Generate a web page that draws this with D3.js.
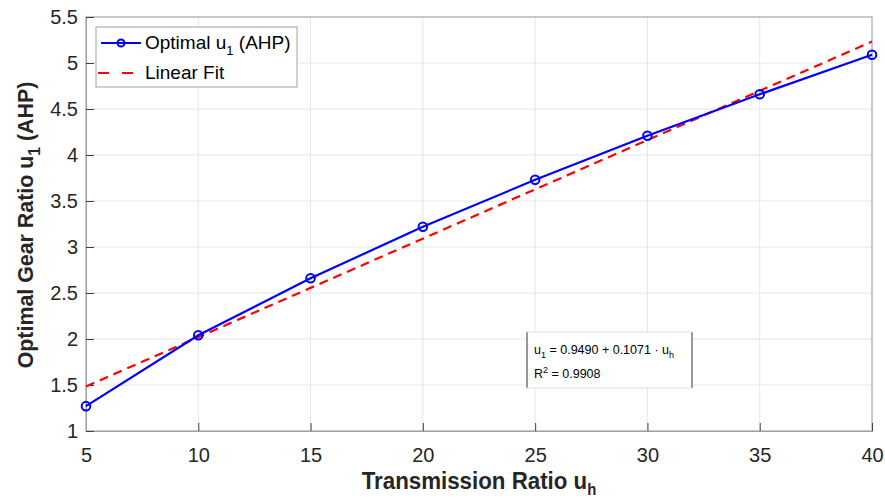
<!DOCTYPE html>
<html>
<head>
<meta charset="utf-8">
<script src="https://cdn.jsdelivr.net/npm/d3@7"></script>
<style>
  body { margin: 0; background: #fff; }
  text { font-family: "Liberation Sans", Arial, sans-serif; }
</style>
</head>
<body>
<div id="chart"></div>
<script>
// data
var uh = [5, 10, 15, 20, 25, 30, 35, 40];
var u1 = [1.27, 2.04, 2.66, 3.22, 3.73, 4.21, 4.66, 5.09];
var fitCoef = [0.9490, 0.1071];   // intercept, slope
var r2 = 0.9908;
var xTicks = [5, 10, 15, 20, 25, 30, 35, 40];
var yTicks = [1, 1.5, 2, 2.5, 3, 3.5, 4, 4.5, 5, 5.5];

function drawChart() {
  var width = 885, height = 501;
  var mLeft = 86, mRight = 872, mTop = 17, mBottom = 431;

  var svg = d3.select("#chart")
    .append("svg")
      .attr("width", width)
      .attr("height", height);

  var x = d3.scaleLinear().domain([5, 40]).range([mLeft, mRight]);
  var y = d3.scaleLinear().domain([1, 5.5]).range([mBottom, mTop]);

  // grid
  svg.append("g")
    .selectAll("line")
    .data(xTicks).enter()
    .append("line")
      .attr("x1", d => x(d)).attr("x2", d => x(d))
      .attr("y1", mTop).attr("y2", mBottom)
      .style("stroke", "#e6e6e6").style("stroke-width", 1);
  svg.append("g")
    .selectAll("line")
    .data(yTicks).enter()
    .append("line")
      .attr("x1", mLeft).attr("x2", mRight)
      .attr("y1", d => y(d)).attr("y2", d => y(d))
      .style("stroke", "#e6e6e6").style("stroke-width", 1);

  // box
  svg.append("rect")
    .attr("x", mLeft).attr("y", mTop)
    .attr("width", mRight - mLeft).attr("height", mBottom - mTop)
    .style("fill", "none").style("stroke", "#a0a0a0").style("stroke-width", 1);

  // axes
  var xAxis = svg.append("g")
    .attr("transform", "translate(0," + mBottom + ")")
    .call(d3.axisBottom(x).tickValues(xTicks).tickSize(-8).tickPadding(17).tickFormat(d3.format("d")));
  var yAxis = svg.append("g")
    .attr("transform", "translate(" + mLeft + ",0)")
    .call(d3.axisLeft(y).tickValues(yTicks).tickSize(-8).tickPadding(8).tickFormat(d => d));

  [xAxis, yAxis].forEach(function(a) {
    a.select(".domain").style("stroke", "#a0a0a0");
    a.selectAll(".tick line").style("stroke", "#404040");
    a.selectAll(".tick text")
      .style("font-size", "20px")
      .style("font-family", "'Liberation Sans', Arial, sans-serif")
      .style("fill", "#262626");
  });

  // linear fit
  var fitLine = d3.line()
    .x(d => x(d))
    .y(d => y(fitCoef[0] + fitCoef[1] * d));
  svg.append("path")
    .datum(d3.extent(uh))
    .attr("d", fitLine)
    .style("fill", "none")
    .style("stroke", "#ff0000")
    .style("stroke-width", 2.2)
    .style("stroke-dasharray", "9,6");

  // optimal u1 line
  var dataLine = d3.line()
    .x((d, i) => x(uh[i]))
    .y(d => y(d));
  svg.append("path")
    .datum(u1)
    .attr("d", dataLine)
    .style("fill", "none")
    .style("stroke", "#0000ff")
    .style("stroke-width", 2.2);

  svg.selectAll("circle.pt")
    .data(u1).enter()
    .append("circle")
      .attr("class", "pt")
      .attr("cx", (d, i) => x(uh[i]))
      .attr("cy", d => y(d))
      .attr("r", 4.3)
      .style("fill", "none")
      .style("stroke", "#0000ff")
      .style("stroke-width", 2);

  // legend
  var lg = svg.append("g").attr("transform", "translate(96,27)");
  lg.append("rect")
    .attr("width", 201).attr("height", 60)
    .style("fill", "#fff").style("stroke", "#a0a0a0").style("stroke-width", 1);
  lg.append("line")
    .attr("x1", 5).attr("x2", 45).attr("y1", 16).attr("y2", 16)
    .style("stroke", "#0000ff").style("stroke-width", 2.2);
  lg.append("circle")
    .attr("cx", 25).attr("cy", 16).attr("r", 3.5)
    .style("fill", "none").style("stroke", "#0000ff").style("stroke-width", 2);
  lg.append("line")
    .attr("x1", 2).attr("x2", 40).attr("y1", 46).attr("y2", 46)
    .style("stroke", "#ff0000").style("stroke-width", 2.2).style("stroke-dasharray", "11,13");

  var t1 = lg.append("text").attr("x", 49).attr("y", 22)
    .style("font-size", "19px").style("fill", "#000");
  t1.append("tspan").text("Optimal u");
  t1.append("tspan").attr("dy", 6).style("font-size", "13px").text("1");
  t1.append("tspan").attr("dy", -6).text(" (AHP)");
  lg.append("text").attr("x", 49).attr("y", 52)
    .style("font-size", "19px").style("fill", "#000").text("Linear Fit");

  // annotation box
  var ab = svg.append("g").attr("transform", "translate(527,332)");
  ab.append("rect")
    .attr("width", 165).attr("height", 56)
    .style("fill", "#fff").style("stroke", "none");
  ab.append("line").attr("x1", 0).attr("x2", 0).attr("y1", 0).attr("y2", 56)
    .style("stroke", "#333").style("stroke-width", 1);
  ab.append("line").attr("x1", 165).attr("x2", 165).attr("y1", 0).attr("y2", 56)
    .style("stroke", "#333").style("stroke-width", 1);
  ab.append("line").attr("x1", 0).attr("x2", 165).attr("y1", 0).attr("y2", 0)
    .style("stroke", "#ddd").style("stroke-width", 1);
  ab.append("line").attr("x1", 0).attr("x2", 165).attr("y1", 56).attr("y2", 56)
    .style("stroke", "#ddd").style("stroke-width", 1);

  var a1 = ab.append("text").attr("x", 7).attr("y", 22)
    .style("font-size", "12.5px").style("fill", "#000");
  a1.append("tspan").text("u");
  a1.append("tspan").attr("dy", 4).style("font-size", "9px").text("1");
  a1.append("tspan").attr("dy", -4).text(" = " + fitCoef[0].toFixed(4) + " + " + fitCoef[1].toFixed(4) + " \u00b7 u");
  a1.append("tspan").attr("dy", 4).style("font-size", "9px").text("h");
  var a2 = ab.append("text").attr("x", 7).attr("y", 46)
    .style("font-size", "12.5px").style("fill", "#000");
  a2.append("tspan").text("R");
  a2.append("tspan").attr("dy", -5).style("font-size", "9px").text("2");
  a2.append("tspan").attr("dy", 5).text(" = " + r2.toFixed(4));

  // axis titles
  var xl = svg.append("text")
    .attr("transform", "translate(" + ((mLeft + mRight) / 2) + ",489) scale(0.93,1)")
    .attr("text-anchor", "middle")
    .style("font-size", "24px").style("font-weight", "bold").style("fill", "#262626");
  xl.append("tspan").text("Transmission Ratio u");
  xl.append("tspan").attr("dy", 6).style("font-size", "16px").text("h");

  var yl = svg.append("text")
    .attr("transform", "translate(33,225) rotate(-90) scale(0.93,1)")
    .attr("text-anchor", "middle")
    .style("font-size", "23px").style("font-weight", "bold").style("fill", "#262626");
  yl.append("tspan").text("Optimal Gear Ratio u");
  yl.append("tspan").attr("dy", 7).style("font-size", "17px").text("1");
  yl.append("tspan").attr("dy", -7).text(" (AHP)");
}

drawChart();
</script>
</body>
</html>
